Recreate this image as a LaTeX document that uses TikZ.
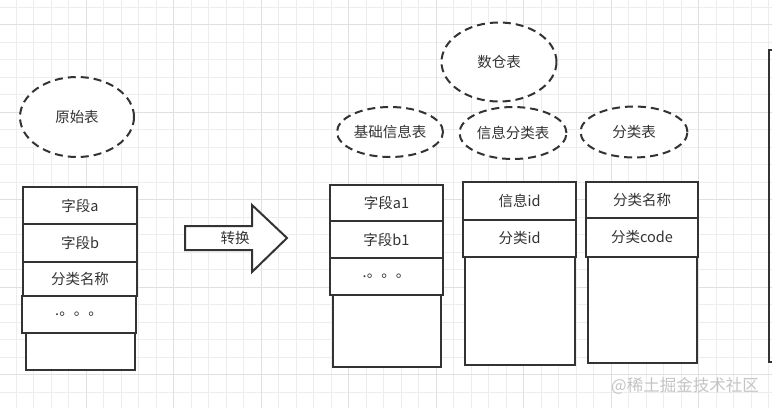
\documentclass[tikz,border=0pt]{standalone}
\usepackage{fontspec}
\setmainfont{Noto Sans CJK SC}
\usetikzlibrary{shapes.geometric}
\definecolor{ink}{HTML}{333333}
\definecolor{gridminor}{HTML}{EDEDED}
\definecolor{gridmajor}{HTML}{E0E0E0}
\definecolor{wm}{HTML}{C4C4C4}
\tikzset{
  cell/.style={draw=ink, line width=2pt, fill=white, inner sep=0pt, text=ink, font=\fontsize{14.5}{15}\selectfont},
  tag/.style={ellipse, draw=ink, line width=2pt, dash pattern=on 8pt off 5pt, fill=white, inner sep=0pt, text=ink, font=\fontsize{14.5}{15}\selectfont},
}
\begin{document}
\begin{tikzpicture}[x=1pt,y=-1pt]
\useasboundingbox (0,0) rectangle (772,408);
\fill[white] (0,0) rectangle (772,408);
\clip (0,0) rectangle (772,408);
% grid
\foreach \k in {0,...,44} {
  \draw[gridminor, line width=1pt] ({16+17.5*\k},0) -- ({16+17.5*\k},408);
}
\foreach \k in {0,...,23} {
  \draw[gridminor, line width=1pt] (0,{7+17.5*\k}) -- (772,{7+17.5*\k});
}
\foreach \k in {0,...,8} {
  \draw[gridmajor, line width=1pt] ({86+87.5*\k},0) -- ({86+87.5*\k},408);
}
\foreach \k in {0,...,4} {
  \draw[gridmajor, line width=1pt] (0,{24.5+87.5*\k}) -- (772,{24.5+87.5*\k});
}

% ellipses
\node[tag, minimum width=114pt, minimum height=80pt] (e0) at (77,117) {原始表};
\node[tag, minimum width=115pt, minimum height=79pt] (e1) at (499,62) {数仓表};
\node[tag, minimum width=106pt, minimum height=50pt] (e2) at (390,132) {基础信息表};
\node[tag, minimum width=107pt, minimum height=52pt] (e3) at (513,133) {信息分类表};
\node[tag, minimum width=107pt, minimum height=51pt] (e4) at (634,132) {分类表};

% left table
\node[cell, minimum width=109pt, minimum height=37pt] (a5) at (80.5,351.5) {};
\node[cell, minimum width=114pt, minimum height=37pt] (a4) at (79,314.5) {.。。。};
\node[cell, minimum width=114pt, minimum height=34pt] (a3) at (80,279) {分类名称};
\node[cell, minimum width=114pt, minimum height=38pt] (a2) at (80,243) {字段b};
\node[cell, minimum width=114pt, minimum height=37pt] (a1) at (80,205.5) {字段a};

% arrow
\draw[ink, line width=2pt, fill=white, line join=miter]
  (185,226) -- (252,226) -- (252,205) -- (287,238) -- (252,272) -- (252,250) -- (185,250) -- cycle;
\node[text=ink, inner sep=0pt, font=\fontsize{14.5}{15}\selectfont] (arr) at (235,238) {转换};

% table 2
\node[cell, minimum width=108pt, minimum height=72pt] (b4) at (387,331) {};
\node[cell, minimum width=113pt, minimum height=37pt] (b3) at (386.5,276.5) {.。。。};
\node[cell, minimum width=113pt, minimum height=37pt] (b2) at (386.5,239.5) {字段b1};
\node[cell, minimum width=113pt, minimum height=36pt] (b1) at (386.5,203) {字段a1};

% table 3
\node[cell, minimum width=110pt, minimum height=108pt] (c3) at (520,311) {};
\node[cell, minimum width=113pt, minimum height=37pt] (c2) at (519.5,238.5) {分类id};
\node[cell, minimum width=113pt, minimum height=38pt] (c1) at (519.5,201) {信息id};

% table 4
\node[cell, minimum width=109pt, minimum height=106pt] (d3) at (642.5,310) {};
\node[cell, minimum width=112pt, minimum height=39pt] (d2) at (642,237.5) {分类code};
\node[cell, minimum width=112pt, minimum height=36pt] (d1) at (642,200) {分类名称};

% right partial box
\draw[ink, line width=2pt] (790,50) -- (769,50) -- (769,362) -- (790,362);

% watermark
\node[text=wm, inner sep=0pt, font=\fontsize{16.5}{17}\selectfont] (wmark) at (685,386) {@稀土掘金技术社区};
\end{tikzpicture}
\end{document}
